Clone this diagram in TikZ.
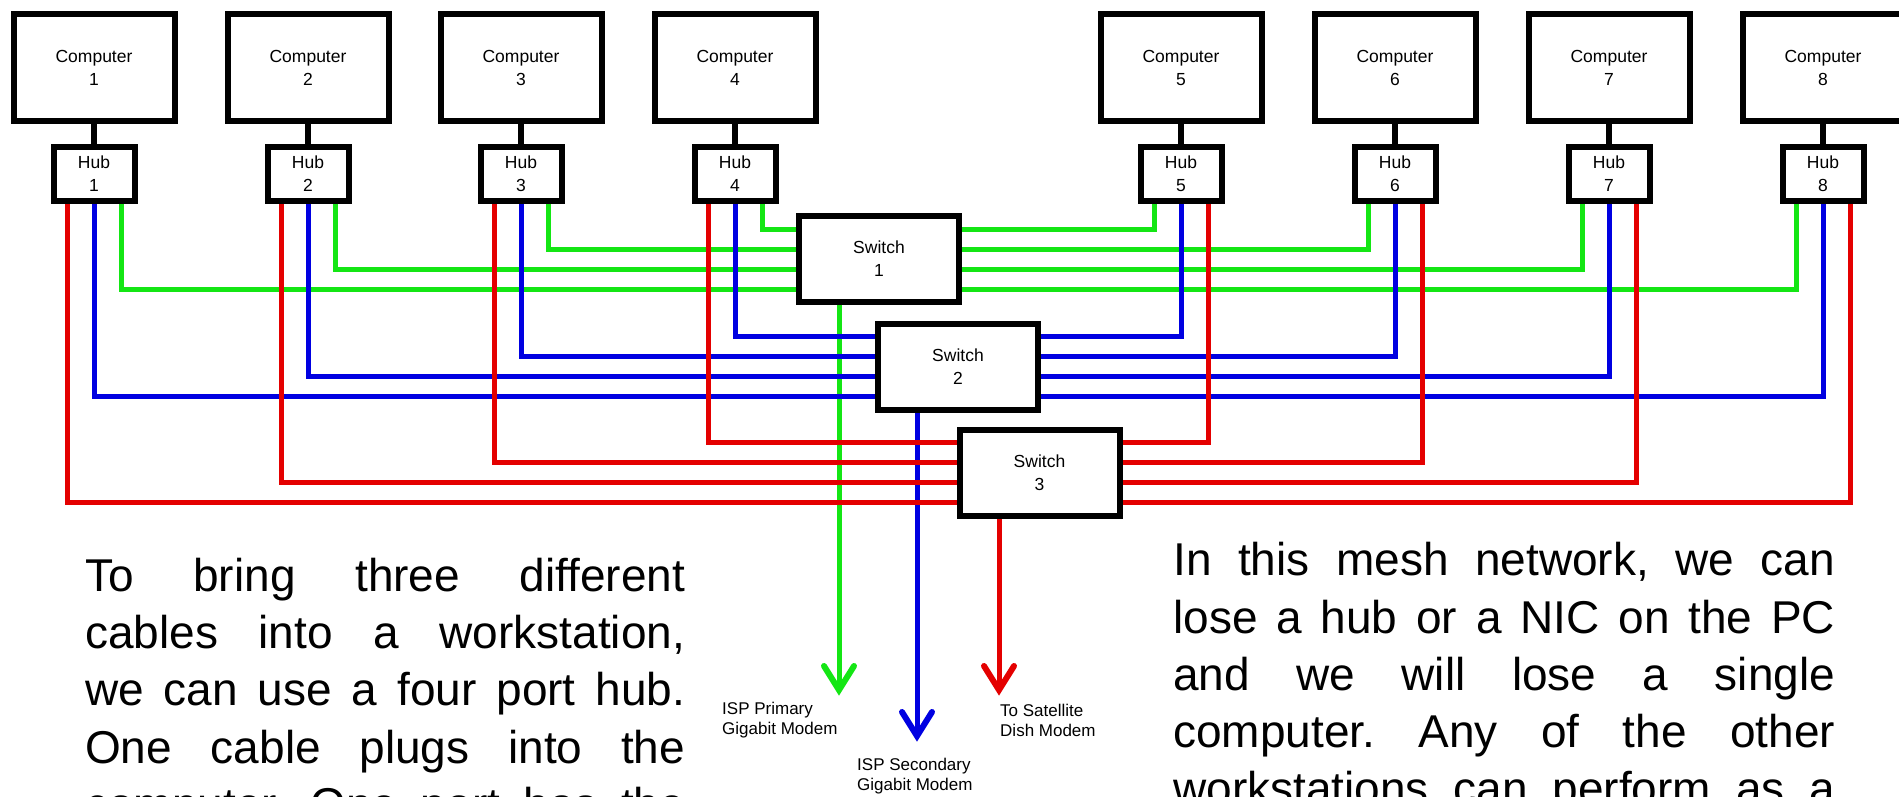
\documentclass[tikz,border=0pt]{standalone}
\usepackage{fontspec}
\setmainfont{Liberation Sans}
\usetikzlibrary{arrows.meta,calc}
\pgfdeclarelayer{bg}
\pgfdeclarelayer{paper}
\pgfsetlayers{paper,bg,main}
\definecolor{lgreen}{RGB}{20,230,20}
\definecolor{lblue}{RGB}{0,0,225}
\definecolor{lred}{RGB}{228,0,0}
\frenchspacing
\begin{document}
\begin{tikzpicture}[x=1pt,y=-1pt,
  box/.style={draw=black, line width=6pt, fill=white, align=center, inner sep=0pt, font=\fontsize{17.5}{23}\selectfont},
  compbox/.style={box, minimum width=161pt, minimum height=107pt},
  hubbox/.style={box, minimum width=81pt, minimum height=54pt},
  swbox/.style={box, minimum width=160pt, minimum height=86pt},
  link/.style={line width=6pt, draw=black},
  wire/.style={line width=5pt, line join=miter},
  gw/.style={wire, draw=lgreen},
  bw/.style={wire, draw=lblue},
  rw/.style={wire, draw=lred},
  barb/.style={line width=6pt, line join=miter, line cap=round},
  lbl/.style={font=\fontsize{17}{20}\selectfont, align=left, inner sep=0pt, anchor=west},
  para/.style={font=\fontsize{46}{57}\selectfont, inner sep=0pt, anchor=base west}
]
\useasboundingbox (0,0) rectangle (1899,797);
\clip (0,0) rectangle (1899,797);
\begin{pgfonlayer}{paper}
  \fill[white] (0,0) rectangle (1899,797);
\end{pgfonlayer}

% computers and hubs
\foreach \i/\x in {1/94,2/308,3/521,4/735,5/1181,6/1395,7/1609,8/1823} {
  \node[compbox] (c\i) at (\x,67.5) {Computer\\\i};
  \node[hubbox] (h\i) at (\x,174) {Hub\\\i};
}
% switches
\node[swbox] (s1) at (879,259) {Switch\\1};
\node[swbox] (s2) at (958,366.5) {Switch\\2};
\node[swbox] (s3) at (1039.5,472.5) {Switch\\3};

% arrow tips
\coordinate (gt) at (839,690);
\coordinate (bt) at (917,736);
\coordinate (rt) at (999,690);

\begin{pgfonlayer}{bg}
  \foreach \i in {1,...,8} {\draw[link] (c\i.south) -- (h\i.north);}
  % green
  \foreach \i/\d in {1/-30,2/-10,3/10,4/30}
    {\draw[gw] ([xshift=27pt]h\i.south) |- ([yshift=\d pt]s1.west);}
  \foreach \i/\d in {8/-30,7/-10,6/10,5/30}
    {\draw[gw] ([xshift=-27pt]h\i.south) |- ([yshift=\d pt]s1.east);}
  \draw[gw] (gt |- s1.south) -- (gt);
  \draw[gw, barb] ([shift={(-15pt,24pt)}]gt) -- (gt) -- ([shift={(15pt,24pt)}]gt);
  % blue
  \foreach \i/\d in {1/-30,2/-10,3/10,4/30}
    {\draw[bw] (h\i.south) |- ([yshift=\d pt]s2.west);}
  \foreach \i/\d in {8/-30,7/-10,6/10,5/30}
    {\draw[bw] (h\i.south) |- ([yshift=\d pt]s2.east);}
  \draw[bw] (bt |- s2.south) -- (bt);
  \draw[bw, barb] ([shift={(-15pt,24pt)}]bt) -- (bt) -- ([shift={(15pt,24pt)}]bt);
  % red
  \foreach \i/\d in {1/-30,2/-10,3/10,4/30}
    {\draw[rw] ([xshift=-27pt]h\i.south) |- ([yshift=\d pt]s3.west);}
  \foreach \i/\d in {8/-30,7/-10,6/10,5/30}
    {\draw[rw] ([xshift=27pt]h\i.south) |- ([yshift=\d pt]s3.east);}
  \draw[rw] (rt |- s3.south) -- (rt);
  \draw[rw, barb] ([shift={(-15pt,24pt)}]rt) -- (rt) -- ([shift={(15pt,24pt)}]rt);
\end{pgfonlayer}

% modem labels
\node[lbl] (m1) at (722,720) {ISP Primary\\Gigabit Modem};
\node[lbl] (m2) at (857,776) {ISP Secondary\\Gigabit Modem};
\node[lbl] (m3) at (1000,720) {To Satellite\\Dish Modem};

% left paragraph
\node[para] (l1) at (85,591) {\makebox[600pt][s]{To bring three different}};
\node[para] (l2) at (85,648) {\makebox[600pt][s]{cables into a workstation,}};
\node[para] (l3) at (85,705) {\makebox[600pt][s]{we can use a four port hub.}};
\node[para] (l4) at (85,763) {\makebox[600pt][s]{One cable plugs into the}};
\node[para] (l5) at (85,820) {\makebox[600pt][s]{computer. One port has the}};
% right paragraph
\node[para] (r1) at (1173,575) {\makebox[662pt][s]{In this mesh network, we can}};
\node[para] (r2) at (1173,633) {\makebox[662pt][s]{lose a hub or a NIC on the PC}};
\node[para] (r3) at (1173,690) {\makebox[662pt][s]{and we will lose a single}};
\node[para] (r4) at (1173,747) {\makebox[662pt][s]{computer. Any of the other}};
\node[para] (r5) at (1173,804) {\makebox[662pt][s]{workstations can perform as a}};
\end{tikzpicture}
\end{document}
